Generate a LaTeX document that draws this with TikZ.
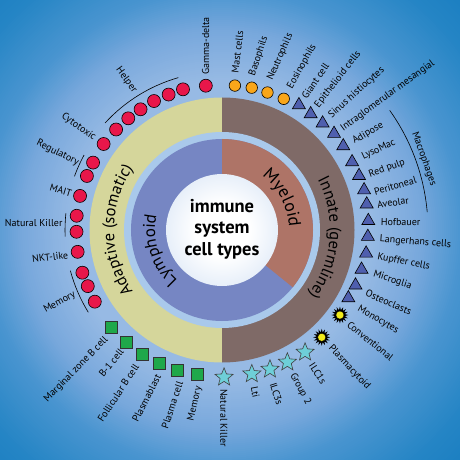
\documentclass[tikz,border=0pt]{standalone}
\usepackage{fontspec}
\setmainfont{PT Sans}
\usetikzlibrary{shapes.geometric,decorations.text}
\definecolor{bgB}{HTML}{97BAE4}
\definecolor{bgC}{HTML}{78A8DC}
\definecolor{bgD}{HTML}{4A95D0}
\definecolor{bgE}{HTML}{2585C5}
\definecolor{bgF}{HTML}{1A7EC1}
\definecolor{adapt}{HTML}{D5D69B}
\definecolor{innate}{HTML}{7F6A67}
\definecolor{band}{HTML}{A9C9EB}
\definecolor{lymph}{HTML}{7686C3}
\definecolor{myelo}{HTML}{AE7467}
\definecolor{cedge}{HTML}{B9D0EE}
\definecolor{redc}{HTML}{E8174A}
\definecolor{orac}{HTML}{F9A61A}
\definecolor{tric}{HTML}{4F5FAE}
\definecolor{sunc}{HTML}{F2EB1B}
\definecolor{starc}{HTML}{6ECFD8}
\definecolor{sqc}{HTML}{1FA84A}
\pgfdeclareradialshading{whiteshade}{\pgfpoint{0bp}{0bp}}{color(0bp)=(white); color(12bp)=(white); color(50bp)=(cedge)}
\tikzset{
  tcell/.style={circle, draw=black, line width=0.6pt, fill=redc, minimum size=13pt, inner sep=0pt},
  gran/.style={circle, draw=black, line width=0.6pt, fill=orac, minimum size=11.5pt, inner sep=0pt},
  tri/.style={regular polygon, regular polygon sides=3, draw=black, line width=0.6pt, fill=tric, minimum size=15pt, inner sep=0pt},
  sqr/.style={rectangle, draw=black!80, line width=0.6pt, fill=sqc, minimum size=12pt, inner sep=0pt},
  cstar/.style={star, star points=5, star point ratio=2.3, draw=black!75, line width=0.6pt, fill=starc, minimum size=19pt, inner sep=0pt},
  burst/.style={star, star points=16, star point ratio=1.7, fill=black, minimum size=17pt, inner sep=0pt},
  sundot/.style={circle, fill=sunc, draw=black, line width=0.3pt, minimum size=8pt, inner sep=0pt},
  lbl/.style={font=\fontsize{10}{12}\selectfont, inner sep=0pt, text=black},
  outl/.style={lbl, anchor=west},
  inl/.style={lbl, anchor=east},
  brk/.style={draw=black, line width=0.6pt},
  ringtext/.style={decorate, decoration={text along path, text align=center, text={#1}}}
}
\begin{document}
\begin{tikzpicture}[x=1pt,y=1pt]
\useasboundingbox (-222,-230) rectangle (238,230);
\begin{scope}
\clip (-222,-230) rectangle (238,230);
\fill[bgF] (-222,-230) rectangle (238,230);
\foreach \k in {0,...,20}{
  \pgfmathsetmacro\rr{340-2*\k}\pgfmathtruncatemacro\pp{5*\k}
  \fill[bgE!\pp!bgF] (0,0) circle (\rr);}
\foreach \k in {1,...,30}{
  \pgfmathsetmacro\rr{300-2*\k}\pgfmathtruncatemacro\pp{round(100*\k/30)}
  \fill[bgD!\pp!bgE] (0,0) circle (\rr);}
\foreach \k in {1,...,20}{
  \pgfmathsetmacro\rr{240-2*\k}\pgfmathtruncatemacro\pp{5*\k}
  \fill[bgC!\pp!bgD] (0,0) circle (\rr);}
\foreach \k in {1,...,25}{
  \pgfmathsetmacro\rr{200-2*\k}\pgfmathtruncatemacro\pp{4*\k}
  \fill[bgB!\pp!bgC] (0,0) circle (\rr);}
\end{scope}
% rings
\fill[adapt] (90:132.5) arc[start angle=90, end angle=270, radius=132.5] -- cycle;
\fill[innate] (-90:132.5) arc[start angle=-90, end angle=90, radius=132.5] -- cycle;
\fill[band] (0,0) circle (98);
\fill[lymph] (0,0) circle (91);
\fill[myelo] (0,0) -- (90:91) arc[start angle=90, end angle=-39, radius=91] -- cycle;
\shade[shading=whiteshade] (0,0) circle (56);
\node[align=center, font=\bfseries\fontsize{18.5}{21.5}\selectfont, inner sep=0pt] (title) at (0,1) {immune\\system\\cell types};
% curved ring labels
\path[ringtext={|\fontsize{16.5}{18}\selectfont|Adaptive (somatic)}] (240:108) arc[start angle=240, end angle=120, radius=108];
\path[ringtext={|\fontsize{16.5}{18}\selectfont|Innate (germline)}] (55.5:108) arc[start angle=55.5, end angle=-64.5, radius=108];
\path[ringtext={|\fontsize{17.5}{18}\selectfont|Myeloid}] (78:67) arc[start angle=78, end angle=-22, radius=67];
\path[ringtext={|\fontsize{17}{18}\selectfont|Lymphoid}] (248:67) arc[start angle=248, end angle=148, radius=67];
% T/NK lymphocyte circles
\foreach \a/\r [count=\i] in {96.4/145.2,105.5/146,111.5/145.6,117.8/145.8,124/145.6,130/145.8,136.5/146,144/146.3,152.4/145.5,158.2/145.5,166.5/146,174.4/146,180.7/145.5,188.6/146,197/146,202.7/145.5,209.4/146}
  \node[tcell] (t\i) at (\a:\r) {};
% granulocytes
\foreach \a/\r [count=\i] in {84.9/145,78.2/145.4,71.7/144.8,64.8/145}
  \node[gran] (g\i) at (\a:\r) {};
% macrophage-type triangles
\foreach \a/\r [count=\i] in {58.4/146.8,52.6/146,46.7/146.7,40.7/147.8,34.7/147.5,27.6/146.8,21.6/147.4,15.7/147.6,10.1/147,3.6/146.6,-2.6/146,-9.2/146,-15.8/145,-22.5/144.5,-28.3/143.5}
  \node[tri] (m\i) at (\a:\r) {};
% dendritic cells
\node[burst] (d1) at (-35.8:145.4) {};
\node[sundot] (d1c) at (d1.center) {};
\node[burst] (d2) at (-47.1:146.5) {};
\node[sundot] (d2c) at (d2.center) {};
% innate lymphoid stars
\foreach \a/\r [count=\i] in {-55.8/147.8,-63.7/147.5,-71/147.3,-78.3/147,-89.2/147.3}
  \node[cstar] (s\i) at (\a:\r) {};
% B cell squares
\foreach \a/\r [count=\i] in {221.5/147.3,229.6/147,237.3/147.4,244.7/147.4,252.4/146.8,260.4/146}
  \node[sqr] (b\i) at (\a:\r) {};
% brackets
\draw[brk] (106:158.5) arc[start angle=106, end angle=137.5, radius=158.5];
\draw[brk] (151.5:157) arc[start angle=151.5, end angle=160, radius=157];
\draw[brk] (173.8:157) arc[start angle=173.8, end angle=182.4, radius=157];
\draw[brk] (195:157) arc[start angle=195, end angle=211.6, radius=157];
\draw[brk] (5:206) arc[start angle=5, end angle=35.5, radius=206];
% outward labels
\node[outl, rotate=90] (lgd) at (96:155.9) {Gamma-delta};
\node[outl, rotate=83] (lmast) at (85.3:157.2) {Mast cells};
\node[outl, rotate=72] (lbaso) at (78.9:157) {Basophils};
\node[outl, rotate=66] (lneut) at (72.3:157.5) {Neutrophils};
\node[outl, rotate=61] (leos) at (64.4:157.2) {Eosinophils};
\node[outl, rotate=56] (lgiant) at (58.2:155.4) {Giant cell};
\node[outl, rotate=52] (lepi) at (52.5:155.5) {Epithelioid cells};
\node[outl, rotate=42] (lsinus) at (46.4:156.5) {Sinus histiocytes};
\node[outl, rotate=36] (lintra) at (40.1:156.4) {Intraglomerular mesangial};
\node[outl, rotate=30.5] (ladip) at (33.9:158) {Adipose};
\node[outl, rotate=25.5] (llyso) at (27.3:158) {LysoMac};
\node[outl, rotate=20] (lred) at (20.5:157) {Red pulp};
\node[outl, rotate=16] (lperi) at (14.1:157) {Peritoneal};
\node[outl, rotate=9] (lave) at (9.1:157) {Aveolar};
\node[outl, rotate=-1] (lhof) at (3:159) {Hofbauer};
\node[outl, rotate=-4.5] (llang) at (-3.4:158) {Langerhans cells};
\node[outl, rotate=-11] (lkup) at (-9.8:157.6) {Kupffer cells};
\node[outl, rotate=-18] (lmicro) at (-16.2:157.6) {Microglia};
\node[outl, rotate=-23] (lost) at (-23.5:157) {Osteoclasts};
\node[outl, rotate=-30] (lmono) at (-29.9:157) {Monocytes};
\node[outl, rotate=-39] (lconv) at (-36.4:157) {Conventional};
\node[outl, rotate=-47] (lplasmac) at (-47.2:159) {Plasmacytoid};
\node[outl, rotate=-57] (lilc1) at (-56.2:161) {ILC1s};
\node[outl, rotate=-62] (lgrp2) at (-63.9:160) {Group 2};
\node[outl, rotate=-72] (lilc3) at (-71.6:161) {ILC3s};
\node[outl, rotate=-79] (llti) at (-78.4:160) {Lti};
\node[outl, rotate=-90] (lnki) at (-89.3:159) {Natural Killer};
\node[lbl, rotate=-70.6] (lmacro) at (19.4:214) {Macrophages};
% inward labels
\node[inl, rotate=-54] (lhelp) at (122.2:163.4) {Helper};
\node[inl, rotate=-35] (lcyto) at (144.2:156.6) {Cytotoxic};
\node[inl, rotate=-26.6] (lreg) at (155.1:158.4) {Regulatory};
\node[inl, rotate=-17] (lmait) at (166.3:154.7) {MAIT};
\node[inl, rotate=0] (lnkt) at (177.4:159.5) {Natural Killer};
\node[inl, rotate=7] (lnktl) at (189.2:155.7) {NKT-like};
\node[inl, rotate=29] (lmemt) at (203.5:160.3) {Memory};
\node[inl, rotate=45.8] (lmz) at (223.2:158.2) {Marginal zone B cell};
\node[inl, rotate=51] (lb1) at (230.1:156.4) {B-1 cell};
\node[inl, rotate=56.7] (lfol) at (237.7:159.7) {Follicular B cell};
\node[inl, rotate=63] (lpb) at (246.3:158.4) {Plasmablast};
\node[inl, rotate=71.6] (lpc) at (254.5:157.4) {Plasma cell};
\node[inl, rotate=77] (lmemb) at (261.6:158.4) {Memory};
\end{tikzpicture}
\end{document}
